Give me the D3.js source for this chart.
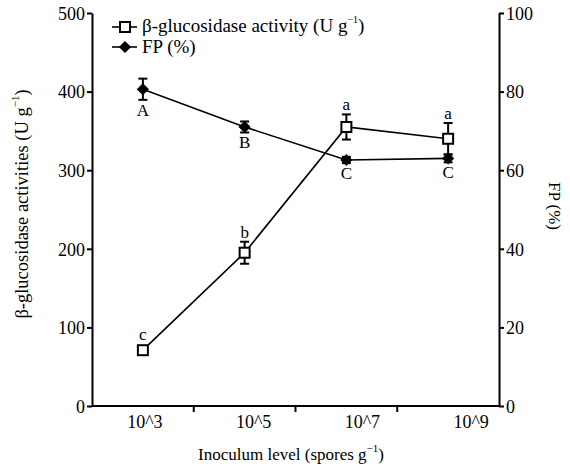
<!DOCTYPE html>
<html lang="en">
<head>
<meta charset="UTF-8" />
<title>Inoculum level chart</title>
<style>
  body { margin: 0; background: #fff; }
  svg { display: block; }
  text { font-family: "Liberation Serif", "Times New Roman", serif; fill: #000; }
  .axis path, .axis line { stroke: #000; stroke-width: 2; }
  .axis text { font-size: 18px; }
</style>
</head>
<body>
<svg id="chart" width="570" height="468"></svg>
<script src="https://cdnjs.cloudflare.com/ajax/libs/d3/7.8.5/d3.min.js"></script>
<script>
  // data
  const levels = ["10^3", "10^5", "10^7", "10^9"];
  const glucValues = [71, 195, 355, 340];
  const glucErrors = [2, 14, 16, 20];
  const glucLetters = ["c", "b", "a", "a"];
  const fpValues = [80.6, 71.0, 62.6, 63.0];
  const fpErrors = [2.7, 1.4, 0.8, 1.0];
  const fpLetters = ["A", "B", "C", "C"];
  const leftTicks = [0, 100, 200, 300, 400, 500];
  const rightTicks = [0, 20, 40, 60, 80, 100];

  const svg = d3.select("#chart");
  const plotLeft = 92, plotRight = 499, plotTop = 13, plotBottom = 406;
  const serif = '"Liberation Serif", "Times New Roman", serif';

  const x = d3.scaleBand().domain(levels).range([plotLeft, plotRight]).padding(0);
  const cx = d => x(d) + x.bandwidth() / 2;
  // the tick labels sit a little to the right of the points in the original
  const xLabel = d3.scalePoint().domain(levels).range([cx(levels[0]) + 2, cx(levels[3]) + 23]);
  const yL = d3.scaleLinear().domain([0, 500]).range([plotBottom, plotTop]);
  const yR = d3.scaleLinear().domain([0, 100]).range([plotBottom, plotTop]);

  // left axis
  svg.append("g").attr("class", "axis")
    .attr("transform", `translate(${plotLeft},0)`)
    .call(d3.axisLeft(yL).tickValues(leftTicks).tickSize(5).tickSizeOuter(0).tickPadding(2))
    .call(g => g.selectAll("text").attr("dy", "0.35em").style("font-family", serif));

  // right axis
  svg.append("g").attr("class", "axis")
    .attr("transform", `translate(${plotRight},0)`)
    .call(d3.axisRight(yR).tickValues(rightTicks).tickSize(5).tickSizeOuter(0).tickPadding(2))
    .call(g => g.selectAll("text").attr("dy", "0.35em").style("font-family", serif));

  // bottom axis: ticks at the band edges
  const xAxis = svg.append("g").attr("class", "axis");
  xAxis.append("line")
    .attr("x1", plotLeft).attr("x2", plotRight)
    .attr("y1", plotBottom).attr("y2", plotBottom);
  xAxis.selectAll(".tk").data(levels.slice(1)).enter().append("line")
    .attr("x1", d => x(d)).attr("x2", d => x(d))
    .attr("y1", plotBottom).attr("y2", plotBottom + 6);
  xAxis.selectAll(".lb").data(levels).enter().append("text")
    .attr("x", d => xLabel(d)).attr("y", plotBottom + 22)
    .attr("text-anchor", "middle")
    .style("font-family", serif)
    .text(d => d);

  // axis titles
  const xt = svg.append("text")
    .attr("x", 291).attr("y", 460)
    .attr("text-anchor", "middle").style("font-size", "17px").style("font-family", serif);
  xt.append("tspan").text("Inoculum level (spores g");
  xt.append("tspan").attr("dy", -8).style("font-size", "11px").text("\u22121");
  xt.append("tspan").attr("dy", 8).text(")");

  const lt = svg.append("text")
    .attr("transform", "translate(28,204) rotate(-90)")
    .attr("text-anchor", "middle").style("font-size", "18.5px").style("font-family", serif);
  lt.append("tspan").text("\u03b2-glucosidase activities (U g");
  lt.append("tspan").attr("dy", -9).style("font-size", "11px").text("\u22121");
  lt.append("tspan").attr("dy", 9).text(")");

  svg.append("text")
    .attr("transform", "translate(549,206) rotate(90)")
    .attr("text-anchor", "middle").style("font-size", "17px").style("font-family", serif)
    .text("FP (%)");

  const line = (vals, y) => d3.line().x((d, i) => cx(levels[i])).y(d => y(d))(vals);

  // FP series (right axis)
  svg.append("path").attr("d", line(fpValues, yR))
    .attr("fill", "none").attr("stroke", "#000").attr("stroke-width", 1.6);
  // glucosidase series (left axis)
  svg.append("path").attr("d", line(glucValues, yL))
    .attr("fill", "none").attr("stroke", "#000").attr("stroke-width", 1.6);

  function errorBars(vals, errs, y) {
    const g = svg.append("g").attr("stroke", "#000").attr("stroke-width", 2);
    vals.forEach((v, i) => {
      const px = cx(levels[i]);
      g.append("line").attr("x1", px).attr("x2", px).attr("y1", y(v - errs[i])).attr("y2", y(v + errs[i]));
      g.append("line").attr("x1", px - 4.5).attr("x2", px + 4.5).attr("y1", y(v + errs[i])).attr("y2", y(v + errs[i]));
      g.append("line").attr("x1", px - 4.5).attr("x2", px + 4.5).attr("y1", y(v - errs[i])).attr("y2", y(v - errs[i]));
    });
  }
  errorBars(fpValues, fpErrors, yR);
  errorBars(glucValues, glucErrors, yL);

  const diamond = d3.symbol().type(d3.symbolDiamond2).size(95);
  svg.selectAll(".fp").data(fpValues).enter().append("path")
    .attr("d", diamond)
    .attr("transform", (d, i) => `translate(${cx(levels[i])},${yR(d)})`)
    .attr("fill", "#000");

  svg.selectAll(".gl").data(glucValues).enter().append("rect")
    .attr("x", (d, i) => cx(levels[i]) - 5).attr("y", d => yL(d) - 5)
    .attr("width", 10).attr("height", 10)
    .attr("fill", "#fff").attr("stroke", "#000").attr("stroke-width", 2);

  // significance letters
  svg.selectAll(".gll").data(glucValues).enter().append("text")
    .attr("x", (d, i) => cx(levels[i]))
    .attr("y", (d, i) => Math.min(yL(d + glucErrors[i]), yL(d) - 6) - 4)
    .attr("text-anchor", "middle").style("font-size", "17px")
    .text((d, i) => glucLetters[i]);
  svg.selectAll(".fpl").data(fpValues).enter().append("text")
    .attr("x", (d, i) => cx(levels[i])).attr("y", (d, i) => yR(d - fpErrors[i]) + 16)
    .attr("text-anchor", "middle").style("font-size", "17px")
    .text((d, i) => fpLetters[i]);

  // legend
  const lg = svg.append("g");
  lg.append("line").attr("x1", 112).attr("x2", 137).attr("y1", 27).attr("y2", 27)
    .attr("stroke", "#000").attr("stroke-width", 1.6);
  lg.append("rect").attr("x", 120).attr("y", 22).attr("width", 10).attr("height", 10)
    .attr("fill", "#fff").attr("stroke", "#000").attr("stroke-width", 2);
  const l1 = lg.append("text").attr("x", 142).attr("y", 32).style("font-size", "19px");
  l1.append("tspan").text("\u03b2-glucosidase activity (U g");
  l1.append("tspan").attr("dy", -9).style("font-size", "10px").text("\u22121");
  l1.append("tspan").attr("dy", 9).text(")");
  lg.append("line").attr("x1", 112).attr("x2", 137).attr("y1", 47).attr("y2", 47)
    .attr("stroke", "#000").attr("stroke-width", 1.6);
  lg.append("path").attr("d", diamond).attr("transform", "translate(125,47)").attr("fill", "#000");
  lg.append("text").attr("x", 142).attr("y", 53).style("font-size", "19px").text("FP (%)");
</script>
</body>
</html>
